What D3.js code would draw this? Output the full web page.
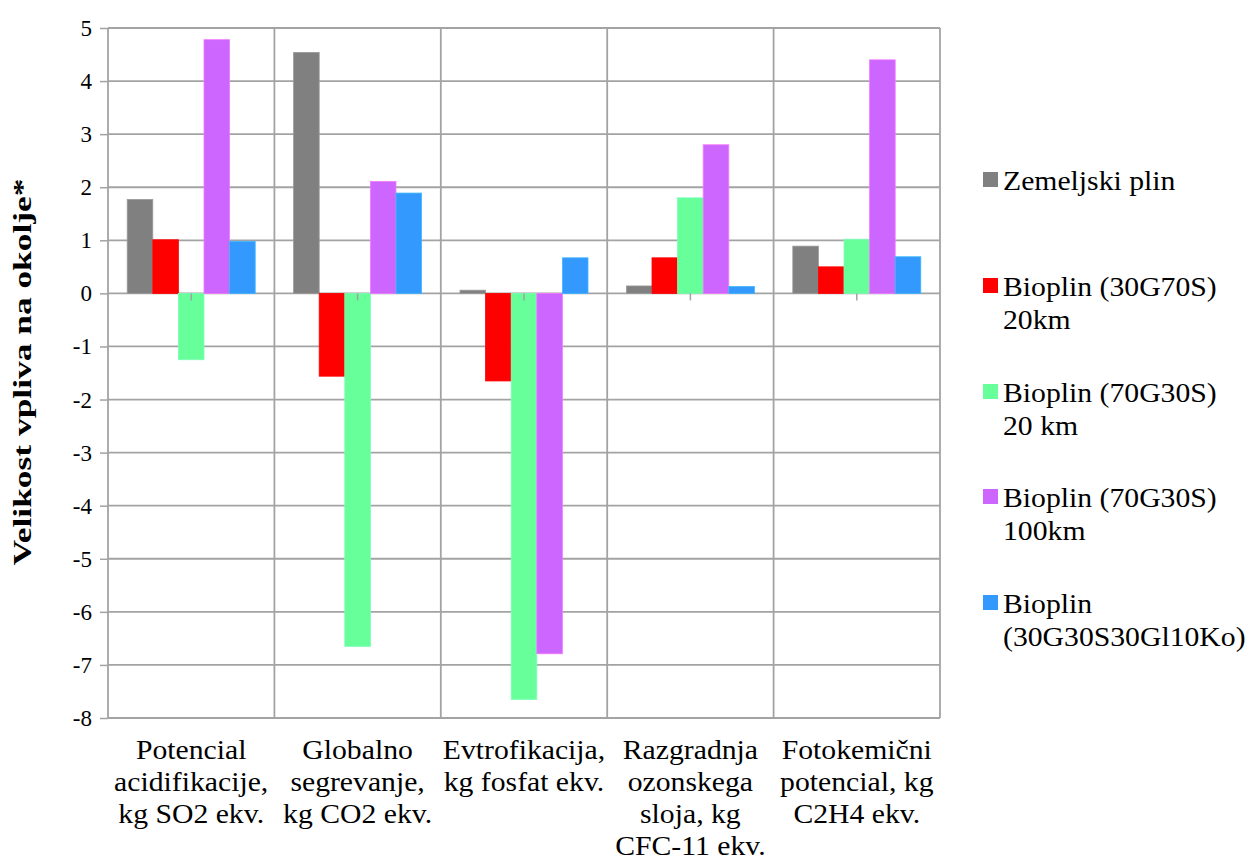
<!DOCTYPE html>
<html><head><meta charset="utf-8">
<script src="https://cdn.jsdelivr.net/npm/d3@7"></script></head>
<body style="margin:0">
<script>
// Categories (each label split into lines)
const categories = [
  ["Potencial", "acidifikacije,", "kg SO2 ekv."],
  ["Globalno", "segrevanje,", "kg CO2 ekv."],
  ["Evtrofikacija,", "kg fosfat ekv."],
  ["Razgradnja", "ozonskega", "sloja, kg", "CFC-11 ekv."],
  ["Fotokemični", "potencial, kg", "C2H4 ekv."]
];
const categoryKeys = categories.map(c => c.join(" "));

// Series names (legend lines) and colours
const seriesNames = [
  ["Zemeljski plin"],
  ["Bioplin (30G70S)", "20km"],
  ["Bioplin (70G30S)", "20 km"],
  ["Bioplin (70G30S)", "100km"],
  ["Bioplin", "(30G30S30Gl10Ko)"]
];
const seriesColors = ["#808080", "#ff0000", "#66ff99", "#cc66ff", "#3399ff"];

// Values per series, in category order
const zemeljskiPlin    = [1.77, 4.54, 0.06, 0.14, 0.89];
const bioplin30G70S    = [1.01, -1.56, -1.65, 0.67, 0.50];
const bioplin70G30S20  = [-1.25, -6.65, -7.65, 1.80, 1.02];
const bioplin70G30S100 = [4.78, 2.11, -6.79, 2.80, 4.40];
const bioplinMix       = [0.98, 1.89, 0.67, 0.13, 0.69];
const seriesValues = [zemeljskiPlin, bioplin30G70S, bioplin70G30S20, bioplin70G30S100, bioplinMix];

const yTicks = [5, 4, 3, 2, 1, 0, -1, -2, -3, -4, -5, -6, -7, -8];

const width = 1249, height = 866;
const marginLeft = 108, marginRight = 309, marginTop = 28, marginBottom = 148;
const fam = '"Liberation Serif"';

const svg = d3.select("body").append("svg").attr("width", width).attr("height", height);

const x = d3.scaleBand()
  .domain(categoryKeys)
  .range([marginLeft, width - marginRight])
  .padding(0);

const xs = d3.scaleBand()
  .domain(d3.range(seriesNames.length))
  .range([0, x.bandwidth()])
  .paddingInner(0)
  .paddingOuter(0.75);

const y = d3.scaleLinear()
  .domain([-8, 5])
  .range([height - marginBottom, marginTop]);

const gridColor = "#a3a3a3";

// add a serif text and stretch it a little, like the reference
function addText(props, txt, stretch) {
  const t = svg.append("text")
    .attr("font-family", "Liberation Serif")
    .style("font-family", fam);
  Object.entries(props).forEach(([k, v]) => t.attr(k, v));
  t.text(txt);
  const len = t.node().getComputedTextLength();
  if (len > 0) {
    t.attr("textLength", len * stretch).attr("lengthAdjust", "spacingAndGlyphs");
  }
  return t;
}

// Horizontal gridlines
svg.append("g")
  .selectAll("line")
  .data(yTicks)
  .join("line")
  .attr("x1", marginLeft)
  .attr("x2", width - marginRight)
  .attr("y1", d => y(d))
  .attr("y2", d => y(d))
  .attr("stroke", gridColor)
  .attr("stroke-width", 1.8);

// y axis tick marks
svg.append("g")
  .attr("transform", `translate(${marginLeft},0)`)
  .call(d3.axisLeft(y).tickValues(yTicks).tickSize(8).tickFormat(""))
  .call(g => g.select(".domain").remove())
  .call(g => g.selectAll(".tick line").attr("stroke", gridColor).attr("stroke-width", 1.5));

// Vertical category separators
const bounds = categoryKeys.map(k => x(k)).concat([width - marginRight]);
svg.append("g")
  .selectAll("line")
  .data(bounds)
  .join("line")
  .attr("x1", d => d)
  .attr("x2", d => d)
  .attr("y1", y(5))
  .attr("y2", y(-8))
  .attr("stroke", gridColor)
  .attr("stroke-width", 1.8);

// Bars
const barData = categoryKeys.flatMap((c, ci) =>
  seriesValues.map((vals, si) => ({ c, si, v: vals[ci] })));

svg.append("g")
  .selectAll("rect")
  .data(barData)
  .join("rect")
  .attr("x", d => x(d.c) + xs(d.si))
  .attr("width", xs.bandwidth())
  .attr("y", d => y(Math.max(0, d.v)))
  .attr("height", d => Math.abs(y(d.v) - y(0)))
  .attr("fill", d => seriesColors[d.si])
  .attr("stroke", d => d3.color(seriesColors[d.si]).brighter(0.5))
  .attr("stroke-width", 0.8);

// Small category ticks on zero line
svg.append("g")
  .selectAll("line")
  .data(categoryKeys)
  .join("line")
  .attr("x1", d => x(d) + x.bandwidth() / 2)
  .attr("x2", d => x(d) + x.bandwidth() / 2)
  .attr("y1", y(0))
  .attr("y2", y(0) + 7)
  .attr("stroke", gridColor)
  .attr("stroke-width", 1.5);

// y tick labels
yTicks.forEach(t => {
  addText({ x: marginLeft - 16, y: y(t) + 8, "text-anchor": "end", "font-size": 23 }, String(t), 1.0);
});

// Category labels
categories.forEach((lines, ci) => {
  lines.forEach((t, li) => {
    addText({
      x: x(categoryKeys[ci]) + x.bandwidth() / 2,
      y: height - marginBottom + 41 + li * 32,
      "text-anchor": "middle",
      "font-size": 27
    }, t, 1.1);
  });
});

// Y axis title
svg.append("text")
  .attr("transform", `translate(31,372) rotate(-90)`)
  .attr("text-anchor", "middle")
  .attr("font-size", 25)
  .attr("font-weight", "bold")
  .attr("font-family", "Liberation Serif")
  .style("font-family", fam)
  .attr("textLength", 387)
  .attr("lengthAdjust", "spacingAndGlyphs")
  .text("Velikost vpliva  na okolje*");

// Legend
const legendY = [181, 287, 393, 498, 604];
seriesNames.forEach((lines, si) => {
  svg.append("rect")
    .attr("x", 983)
    .attr("y", legendY[si] - 9)
    .attr("width", 15)
    .attr("height", 15)
    .attr("fill", seriesColors[si]);
  lines.forEach((t, li) => {
    addText({
      x: 1003,
      y: legendY[si] + 9 + li * 33,
      "font-size": 27
    }, t, 1.1);
  });
});
</script></body></html>
